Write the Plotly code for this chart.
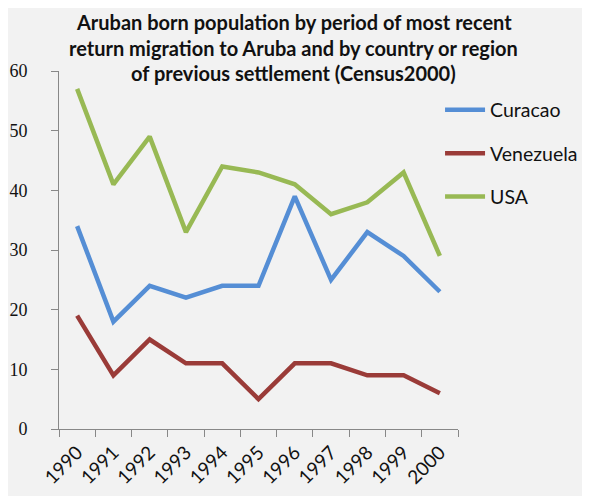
import plotly.graph_objects as go

years = ['1990', '1991', '1992', '1993', '1994', '1995', '1996', '1997', '1998', '1999', '2000']
curacao = [34, 18, 24, 22, 24, 24, 39, 25, 33, 29, 23]
venezuela = [19, 9, 15, 11, 11, 5, 11, 11, 9, 9, 6]
usa = [57, 41, 49, 33, 44, 43, 41, 36, 38, 43, 29]

title_lines = [
    'Aruban born population by period of most recent',
    'return migration to Aruba and by country or region',
    'of previous settlement (Census2000)',
]

series = [
    ('Curacao', curacao, '#558ED5'),
    ('Venezuela', venezuela, '#9A3B38'),
    ('USA', usa, '#98B954'),
]

fig = go.Figure()
for i, (name, vals, color) in enumerate(series):
    fig.add_trace(go.Scatter(
        x=years, y=vals, name=name, mode='lines',
        line=dict(color=color, width=4.5),
        legendgroup=str(i),
    ))

# title drawn line by line to get Excel-like line spacing
for k, line in enumerate(title_lines):
    fig.add_annotation(
        text='<b>' + line + '</b>',
        xref='paper', yref='paper',
        x=0.588, y=1.0 + (49 - 25.5 * k) / 358.0,
        xanchor='center', yanchor='middle', showarrow=False,
        font=dict(family='Lato, Open Sans, sans-serif', size=20, color='#111111'),
    )

# page body adds an 8px offset, so margins are trimmed by 8 on left/top
fig.update_layout(
    width=590, height=496,
    paper_bgcolor='#F2F2F2',
    plot_bgcolor='#F2F2F2',
    margin=dict(l=51, r=140, t=63, b=75),
    showlegend=True,
    legend=dict(
        x=0.955, xanchor='left', y=0.945, yanchor='top',
        bgcolor='rgba(0,0,0,0)',
        font=dict(family='Lato, Open Sans, sans-serif', size=19.5, color='#111111'),
        traceorder='grouped', tracegroupgap=15,
        itemwidth=40,
    ),
    xaxis=dict(
        type='category', range=[-0.5, 10.5], automargin=False,
        showgrid=False, zeroline=False,
        showline=True, linecolor='#888888', linewidth=1,
        ticks='outside', tickson='boundaries', ticklen=7, tickcolor='#888888',
        tickangle=-45, ticklabelstandoff=4,
        tickfont=dict(family='Lato, Open Sans, sans-serif', size=19, color='#111111'),
    ),
    yaxis=dict(
        range=[0, 60], dtick=10, automargin=False,
        showgrid=False, zeroline=False,
        showline=True, linecolor='#888888', linewidth=1,
        ticks='outside', ticklen=7, tickcolor='#888888',
        ticklabelstandoff=20,
        tickfont=dict(family='Liberation Serif, serif', size=18, color='#111111'),
    ),
)

fig.write_html("out.html")
